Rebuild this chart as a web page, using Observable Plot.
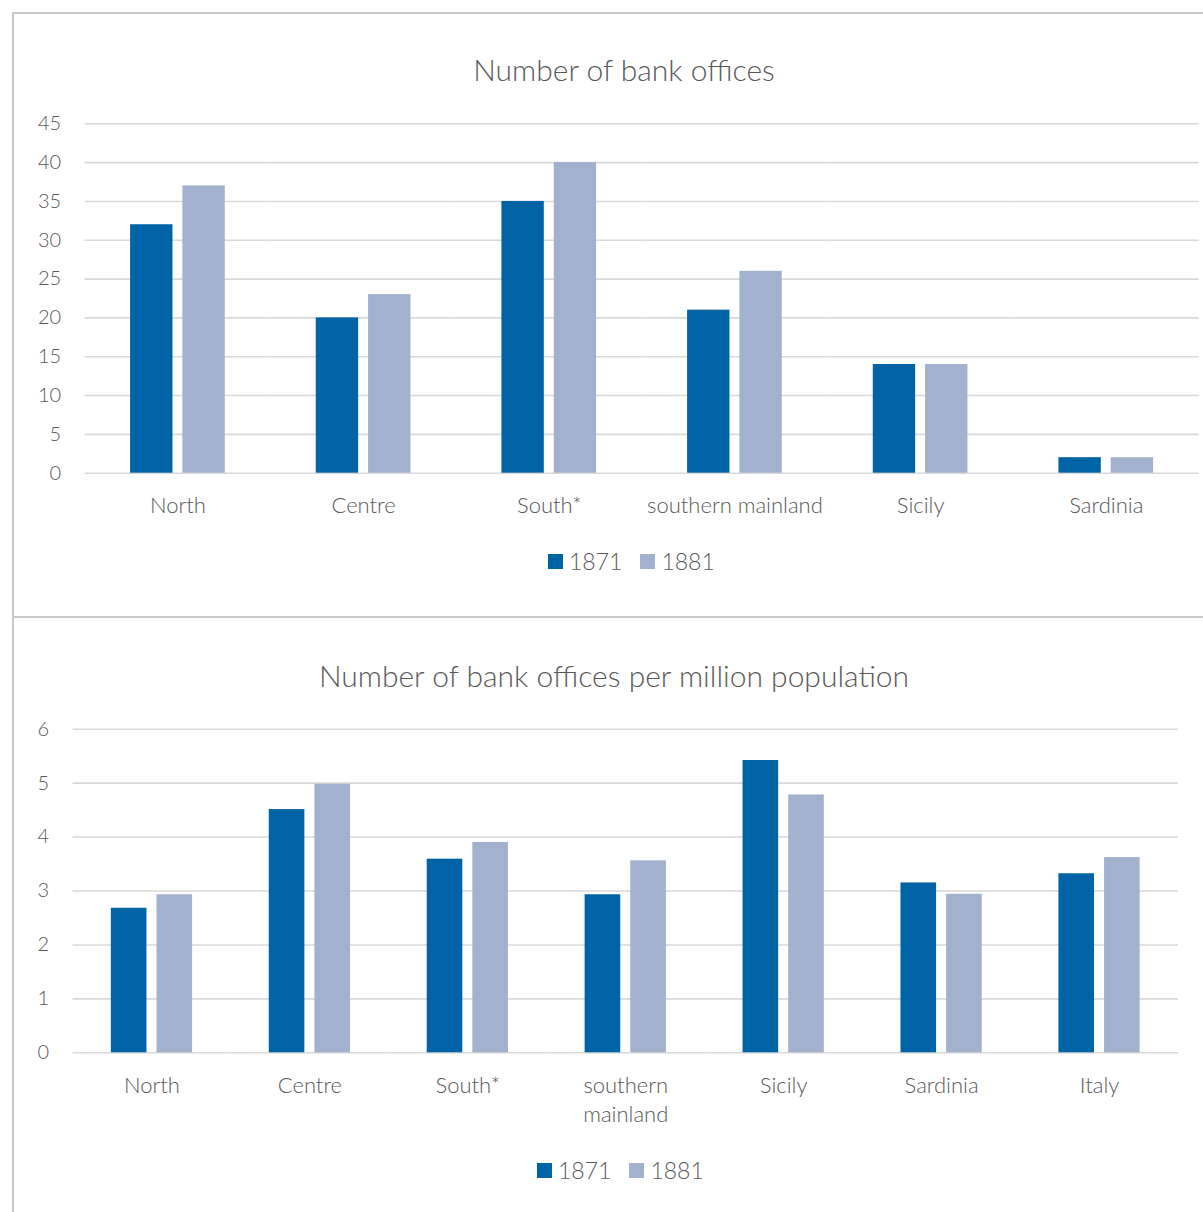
<!DOCTYPE html>
<html><head><meta charset="utf-8">
<script src="https://cdn.jsdelivr.net/npm/d3@7"></script>
<script src="https://cdn.jsdelivr.net/npm/@observablehq/plot@0.6"></script>
<style>
body{margin:0;background:#fff;font-family:Lato,"Open Sans",sans-serif;color:#595959;}
#wrap{position:relative;width:1203px;height:1212px;overflow:hidden;background:#fff;}
.box{position:absolute;box-sizing:border-box;border-color:#c8c8c8;border-style:solid;}
.title{position:absolute;width:900px;text-align:center;font-size:30px;font-weight:300;line-height:1;white-space:nowrap;}
.legend{position:absolute;display:flex;align-items:center;font-size:23px;font-weight:300;line-height:1;}
.legend .sw{width:15px;height:15px;margin-right:6px;}
.legend .item{display:flex;align-items:center;margin-right:18px;}
.chart{position:absolute;left:0;}
</style></head><body>
<div id="wrap">
  <div class="box" style="left:12px;top:12px;width:1300px;height:606px;border-width:2px 0 2px 2px;"></div>
  <div class="box" style="left:12px;top:617px;width:1300px;height:700px;border-width:0 0 0 2px;"></div>
  <div class="title" id="t1" style="left:174px;top:54px;"></div>
  <div class="title" id="t2" style="left:164px;top:660px;"></div>
  <div class="chart" id="c1" style="top:100px;"></div>
  <div class="chart" id="c2" style="top:700px;"></div>
  <div class="legend" id="l1" style="left:548px;top:550px;"></div>
  <div class="legend" id="l2" style="left:537px;top:1159px;"></div>
</div>
<script>
// ---- data ----
const title1 = "Number of bank offices";
const title2 = "Number of bank offices per million population";
const years = ["1871", "1881"];
const colors = ["#0063a6", "#a2b1ce"];
const regions1 = ["North", "Centre", "South*", "southern mainland", "Sicily", "Sardinia"];
const offices1871 = [32, 20, 35, 21, 14, 2];
const offices1881 = [37, 23, 40, 26, 14, 2];
const yTicks1 = [0, 5, 10, 15, 20, 25, 30, 35, 40, 45];
const regions2 = ["North", "Centre", "South*", "southern mainland", "Sicily", "Sardinia", "Italy"];
const perMillion1871 = [2.68, 4.51, 3.59, 2.93, 5.42, 3.15, 3.32];
const perMillion1881 = [2.93, 4.98, 3.90, 3.56, 4.78, 2.94, 3.62];
const yTicks2 = [0, 1, 2, 3, 4, 5, 6];

function rows(regions, a, b) {
  const out = [];
  regions.forEach((r, i) => {
    out.push({region: r, year: years[0], value: a[i]});
    out.push({region: r, year: years[1], value: b[i]});
  });
  return out;
}
const data1 = rows(regions1, offices1871, offices1881);
const data2 = rows(regions2, perMillion1871, perMillion1881);

const FONT = "Lato, 'Open Sans', sans-serif";

function chart(data, regions, yDomain, yTicks, opts) {
  return Plot.plot({
    width: 1203,
    height: opts.height,
    marginLeft: opts.left,
    marginRight: opts.right,
    marginTop: opts.top,
    marginBottom: opts.bottom,
    style: {fontFamily: FONT, fontSize: "20px", fontWeight: 300, color: "#595959", background: "transparent", overflow: "visible"},
    fx: {domain: regions, padding: 0, round: false, label: null, axis: null},
    x: {domain: years, paddingInner: opts.pi, paddingOuter: opts.po, round: false, axis: null},
    y: {domain: yDomain, axis: null},
    color: {domain: years, range: colors},
    marks: [
      Plot.ruleY(yTicks, {stroke: "#d9d9d9", strokeWidth: 1.6}),
      Plot.barY(data, {fx: "region", x: "year", y: "value", fill: "year"}),
      Plot.axisY({ticks: yTicks, tickSize: 0, tickPadding: 24, label: null, fontSize: 20,
                  tickFormat: d3.format("d")}),
      Plot.axisFx({anchor: "bottom", tickSize: 0, tickPadding: 18.5, label: null, fontSize: 22,
                   lineHeight: 1.36, tickFormat: opts.fmt || (d => d)})
    ]
  });
}

document.getElementById("c1").appendChild(chart(data1, regions1, [0, 45], yTicks1,
  {height: 420, left: 84.6, right: 4.4, top: 23.3, bottom: 47.3, pi: 0.19, po: 0.87}));
document.getElementById("c2").appendChild(chart(data2, regions2, [0, 6], yTicks2,
  {height: 420, left: 72.5, right: 25, top: 28.7, bottom: 67.7, pi: 0.22, po: 0.84,
   fmt: d => d === "southern mainland" ? "southern\nmainland" : d}));

document.getElementById("t1").textContent = title1;
document.getElementById("t2").textContent = title2;

function legend(id) {
  const el = document.getElementById(id);
  years.forEach((y, i) => {
    const item = document.createElement("div");
    item.className = "item";
    const sw = document.createElement("div");
    sw.className = "sw";
    sw.style.background = colors[i];
    const tx = document.createElement("span");
    tx.textContent = y;
    item.appendChild(sw);
    item.appendChild(tx);
    el.appendChild(item);
  });
}
legend("l1");
legend("l2");
</script>
</body></html>
